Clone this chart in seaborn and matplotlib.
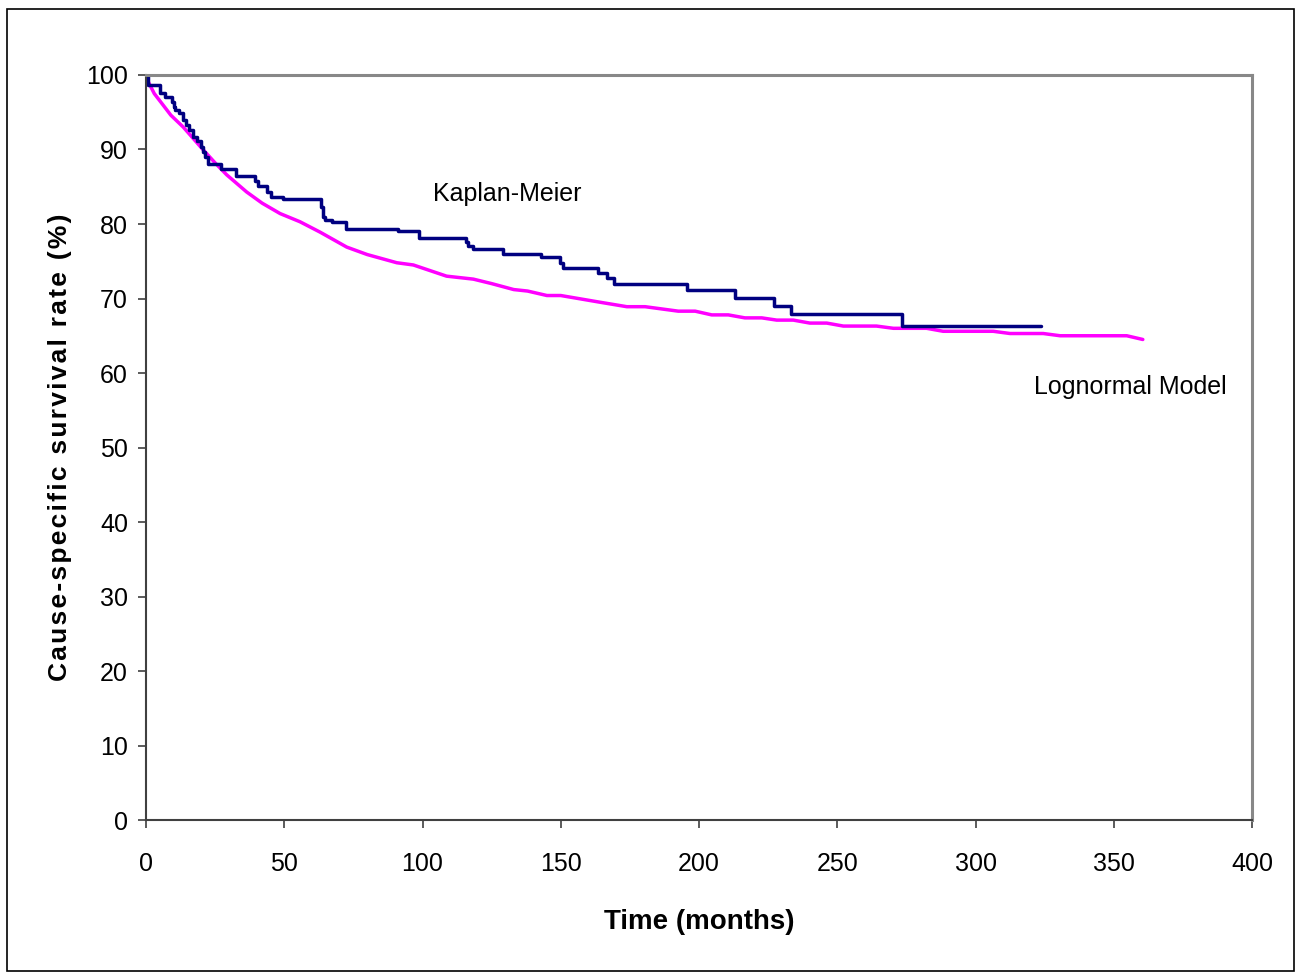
#!/usr/bin/env python3
"""
Cause-specific survival: Kaplan-Meier step curve vs fitted lognormal model
"""
import matplotlib
matplotlib.use('Agg')
import matplotlib.pyplot as plt
import seaborn as sns
import pandas as pd

# Kaplan-Meier estimate (months, % surviving after each drop)
km_time = [0, 0.8, 5.1, 6.9, 9.3, 10.0, 10.5, 12.0, 13.3, 14.5, 15.7, 17.1,
           18.5, 19.8, 20.7, 21.5, 22.5, 27.3, 32.5, 39.4, 40.6, 43.6, 45.2,
           49.7, 63.2, 63.9, 64.7, 67.2, 72.5, 91.0, 98.7, 115.6, 116.6,
           118.4, 129.2, 142.7, 149.7, 150.9, 163.6, 166.8, 169.3, 195.8,
           213.0, 227.2, 233.3, 273.3, 323.6]
km_surv = [100, 98.6, 97.6, 97.1, 96.4, 95.7, 95.3, 94.9, 94.0, 93.3, 92.6,
           91.7, 91.1, 90.4, 89.6, 89.0, 88.1, 87.4, 86.4, 85.8, 85.1, 84.3,
           83.6, 83.3, 82.3, 81.0, 80.6, 80.3, 79.3, 79.0, 78.1, 77.6, 77.1,
           76.7, 76.0, 75.6, 74.7, 74.1, 73.4, 72.7, 71.9, 71.1, 70.1, 69.0,
           67.9, 66.3, 66.3]

# lognormal model curve
ln_time = [0, 0.8, 3, 5.7, 9, 13.5, 20.1, 25, 29.2, 36.4, 42, 48.5, 55.7, 63,
           72.6, 80, 90.7, 96.7, 108.7, 118.4, 125, 133, 138, 145, 150, 164.2,
           173.9, 180.5, 192.5, 198.6, 204.6, 210.6, 216.6, 222.7, 228.1,
           234.1, 240.1, 246.2, 252.2, 264.2, 270.3, 282.3, 288.3, 306.4,
           312.5, 324.5, 330.6, 354.7, 360.5]
ln_surv = [100, 99.1, 97.5, 96.2, 94.6, 93.0, 90.2, 88.2, 86.6, 84.3, 82.8,
           81.4, 80.3, 78.9, 76.9, 75.9, 74.8, 74.5, 73.0, 72.6, 72.0, 71.2,
           71.0, 70.4, 70.4, 69.5, 68.9, 68.9, 68.3, 68.3, 67.8, 67.8, 67.4,
           67.4, 67.1, 67.1, 66.7, 66.7, 66.3, 66.3, 66.0, 66.0, 65.6, 65.6,
           65.3, 65.3, 65.0, 65.0, 64.5]

km = pd.DataFrame({'time': km_time, 'surv': km_surv})
ln = pd.DataFrame({'time': ln_time, 'surv': ln_surv})

sns.set_style('ticks')
plt.rcParams['font.family'] = ['Liberation Sans', 'DejaVu Sans']
for key in ['text.color', 'axes.labelcolor', 'xtick.labelcolor', 'ytick.labelcolor']:
    plt.rcParams[key] = 'black'

fig = plt.figure(figsize=(13, 9.74), dpi=100)
ax = fig.add_axes([0.1123, 0.1581, 0.8508, 0.7649])

sns.lineplot(data=ln, x='time', y='surv', ax=ax, color='#FF00FF',
             linewidth=2.5, estimator=None, sort=False)
sns.lineplot(data=km, x='time', y='surv', ax=ax, color='#000080',
             linewidth=2.5, estimator=None, sort=False, drawstyle='steps-post')

ax.set_xlim(0, 400)
ax.set_ylim(0, 100)
ax.set_xticks(range(0, 401, 50))
ax.set_yticks(range(0, 101, 10))
ax.tick_params(labelsize=18, length=6, width=1.2, color='#404040')
ax.tick_params(axis='x', pad=17)
ax.tick_params(axis='y', pad=7)

for side in ['top', 'right']:
    ax.spines[side].set_color('#888888')
    ax.spines[side].set_linewidth(2.2)
for side in ['left', 'bottom']:
    ax.spines[side].set_color('#404040')
    ax.spines[side].set_linewidth(1.5)

# the original label is drawn with loose letter spacing
ylab = '\u200a'.join('Cause-specific survival rate (%)')
ax.set_xlabel('Time (months)', fontsize=20, fontweight='bold', labelpad=24)
ax.set_ylabel(ylab, fontsize=19, fontweight='bold', labelpad=10)

ax.text(130.6, 84.0, 'Kaplan-Meier', fontsize=18, ha='center', va='center')
ax.text(355.9, 58.1, 'Lognormal Model', fontsize=18, ha='center', va='center')

# outer frame around the whole chart
fig.add_artist(plt.Rectangle((0.0055, 0.003), 0.99, 0.9875,
                             transform=fig.transFigure, fill=False,
                             edgecolor='black', linewidth=1.2))

fig.savefig('out.png', dpi=100)
